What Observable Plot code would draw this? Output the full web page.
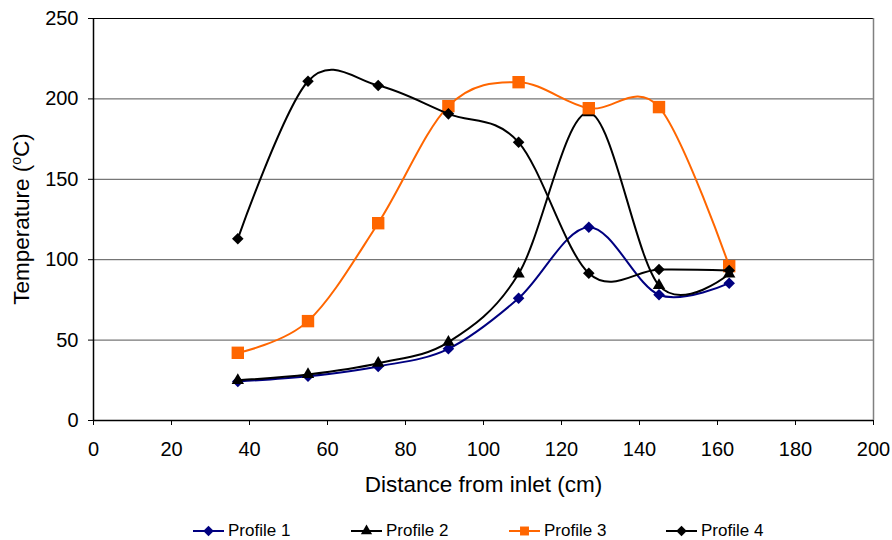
<!DOCTYPE html>
<html>
<head>
<meta charset="utf-8">
<script src="https://cdn.jsdelivr.net/npm/d3@7"></script>
<script src="https://cdn.jsdelivr.net/npm/@observablehq/plot@0.6"></script>
<style>
  html, body { margin: 0; padding: 0; background: #fff; }
  #wrap { position: relative; width: 892px; height: 540px; font-family: "Liberation Sans", Arial, sans-serif; overflow: hidden; }
  #legend { position: absolute; left: 0; top: 520px; width: 892px; height: 22px; }
  .item { position: absolute; top: 0; display: flex; align-items: center; font-size: 17px; color: #000; height: 22px; }
  .item svg { margin-right: 4px; }
  #chart g[aria-label$="tick label"] { font-size: 20px !important; }
</style>
</head>
<body>
<div id="wrap"><div id="chart"></div><div id="legend"></div></div>
<script>
const distances = [37, 55, 73, 91, 109, 127, 145, 163];
const profile1 = [24.3, 27.5, 33.6, 44.6, 76, 120.2, 78.2, 85.4];
const profile2 = [25, 28.6, 35.6, 48.7, 91.2, 191.5, 84, 91.2];
const profile3 = [42.1, 61.8, 122.7, 195.5, 210.4, 194.2, 194.9, 96];
const profile4 = [113, 211, 208.3, 190.7, 173, 91.6, 93.9, 93.3];

const seriesNames = ["Profile 1", "Profile 2", "Profile 3", "Profile 4"];
const seriesValues = [profile1, profile2, profile3, profile4];
const seriesColors = ["#000080", "#000000", "#FF6600", "#000000"];
const seriesSymbols = ["diamond2", "triangle", "square", "diamond2"];
const seriesRadius = [5.2, 4.6, 7, 5.2];

const xTicks = [0, 20, 40, 60, 80, 100, 120, 140, 160, 180, 200];
const yTicks = [0, 50, 100, 150, 200, 250];
const gridValues = [50, 100, 150, 200];

const rows = seriesNames.map((name, i) => distances.map((d, j) => ({series: name, x: d, y: seriesValues[i][j]})));

const seriesMarks = rows.flatMap((data, i) => [
  Plot.line(data, {x: "x", y: "y", stroke: seriesColors[i], strokeWidth: 2, curve: "cardinal"}),
  Plot.dot(data, {x: "x", y: "y", symbol: () => seriesSymbols[i], fill: seriesColors[i], stroke: "none", r: seriesRadius[i]})
]);

const chart = Plot.plot({
  width: 892,
  height: 510,
  marginLeft: 93,
  marginRight: 19,
  marginTop: 18,
  marginBottom: 90,
  style: {fontFamily: '"Liberation Sans", Arial, sans-serif', fontSize: "20px", color: "#000", background: "#fff", overflow: "visible"},
  x: {domain: [0, 200]},
  y: {domain: [0, 250]},
  marks: [
    Plot.ruleY(gridValues, {stroke: "#555", strokeWidth: 1}),
    Plot.ruleY([250], {stroke: "#000", strokeWidth: 1}),
    Plot.ruleX([200], {stroke: "#808080", strokeWidth: 1.5}),
    Plot.axisX({ticks: xTicks, tickSize: 5, tickPadding: 16, label: null, fontSize: 20, stroke: "#000"}),
    Plot.axisY({ticks: yTicks, tickSize: 5, tickPadding: 10, label: null, fontSize: 20, stroke: "#000"}),
    Plot.ruleX([0], {stroke: "#000", strokeWidth: 1.5}),
    Plot.ruleY([0], {stroke: "#000", strokeWidth: 1.5}),
    ...seriesMarks,
    Plot.text(["Distance from inlet (cm)"], {frameAnchor: "bottom", dy: 64, lineAnchor: "middle", fontSize: 22.5, fill: "#000"})
  ]
});

// y-axis title with superscript "o"
const svg = d3.select(chart);
const plotMid = (18 + 420) / 2;
const ylab = svg.append("text")
  .attr("transform", `translate(29,${plotMid}) rotate(-90)`)
  .attr("text-anchor", "middle")
  .attr("font-size", 22.5)
  .attr("fill", "#000");
ylab.append("tspan").text("Temperature (");
ylab.append("tspan").attr("font-size", 14).attr("dy", -8).text("o");
ylab.append("tspan").attr("dy", 8).text("C)");

document.getElementById("chart").appendChild(chart);

// legend
const legendLeft = [193, 351, 509, 666];
const legend = document.getElementById("legend");
const symMap = {diamond2: d3.symbolDiamond2, triangle: d3.symbolTriangle, square: d3.symbolSquare};
seriesNames.forEach((name, i) => {
  const item = document.createElement("div");
  item.className = "item";
  item.style.left = legendLeft[i] + "px";
  const sw = d3.create("svg").attr("width", 31).attr("height", 14);
  sw.append("line").attr("x1", 0).attr("x2", 31).attr("y1", 7).attr("y2", 7).attr("stroke", seriesColors[i]).attr("stroke-width", 2);
  const size = seriesSymbols[i] === "square" ? 80 : seriesSymbols[i] === "triangle" ? 55 : 70;
  sw.append("path").attr("transform", "translate(15.5,7)").attr("d", d3.symbol(symMap[seriesSymbols[i]], size)()).attr("fill", seriesColors[i]);
  item.appendChild(sw.node());
  const t = document.createElement("span");
  t.textContent = name;
  item.appendChild(t);
  legend.appendChild(item);
});
</script>
</body>
</html>
